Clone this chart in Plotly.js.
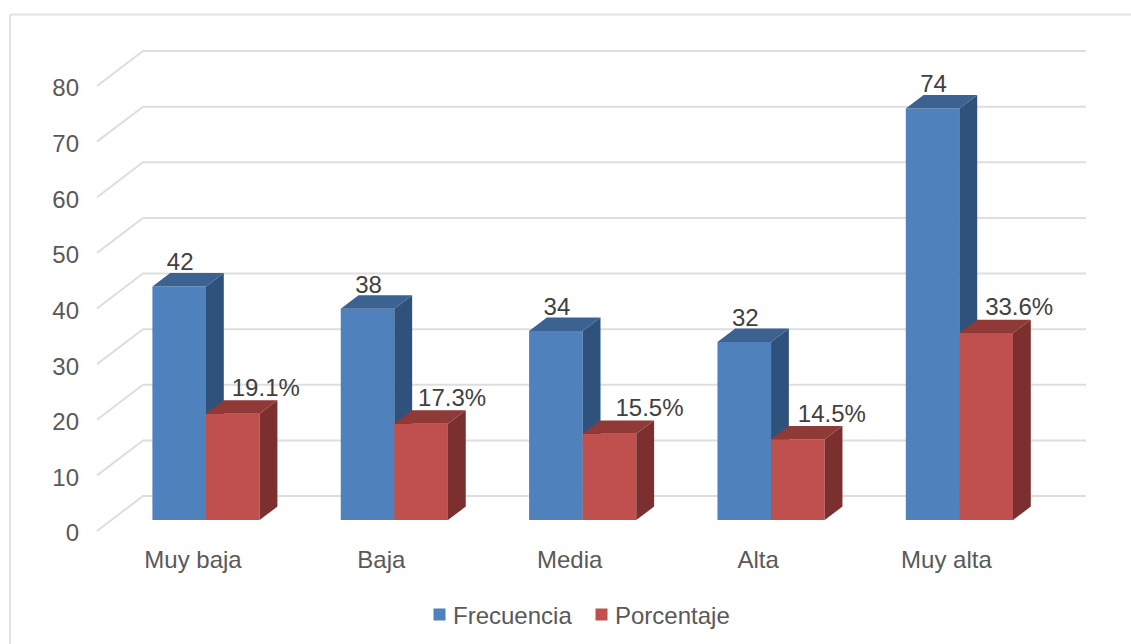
<!DOCTYPE html>
<html>
<head>
<meta charset="utf-8">
<script src="https://cdn.plot.ly/plotly-3.0.1.min.js"></script>
<style>html,body{margin:0;padding:0;background:#fff}#chart{width:1131px;height:644px}</style>
</head>
<body>
<div id="chart"></div>
<script>
const categories = ["Muy baja", "Baja", "Media", "Alta", "Muy alta"];
const frecuencia = [42, 38, 34, 32, 74];
const porcentaje = [19.1, 17.3, 15.5, 14.5, 33.6];
const axisTicks = [0, 10, 20, 30, 40, 50, 60, 70, 80];

// pixel geometry of the plot and the value scales
const W = 1131, H = 644;
const PL = 90, PR = 1095, PT = 40, PB = 543;
const X0 = 206, XS = 188.35;            // px of category 0, px per category
const Y0 = 520, YS = 5.5625;            // px of value 0 on the bars' plane, px per unit
const xv = p => (p - X0) / XS;
const yv = p => (Y0 - p) / YS;
const xRange = [xv(PL), xv(PR)];
const yRange = [yv(PB), yv(PT)];
const labelRange = [(533 - PB) / YS, (533 - PT) / YS];

// oblique projection
const barW = 53.6 / XS;
const dX = 17.8 / XS, dY = 13.4 / YS;
const wallFrontX = xv(97), wallBackX = xv(143), wallRightX = xv(1086);
const wallFront = -11 / YS, wallBack = 24 / YS;

const gridX = [], gridY = [];
axisTicks.forEach(t => {
  gridX.push(wallFrontX, wallBackX, wallRightX, null);
  gridY.push(t + wallFront, t + wallBack, t + wallBack, null);
});

function faces(values, offset) {
  const side = {x: [], y: []}, top = {x: [], y: []};
  values.forEach((v, i) => {
    const l = i + offset, r = l + barW;
    side.x.push(r, r + dX, r + dX, r, r, null);
    side.y.push(0, dY, v + dY, v, 0, null);
    top.x.push(l, l + dX, r + dX, r, l, null);
    top.y.push(v, v + dY, v + dY, v, v, null);
  });
  return {side, top};
}
function faceTrace(f, color, yaxis) {
  return {type: 'scatter', mode: 'lines', x: f.x, y: f.y, xaxis: 'x', yaxis,
    fill: 'toself', fillcolor: color, line: {width: 0, color}, hoverinfo: 'skip', showlegend: false};
}
function barTrace(name, values, offset, color, yaxis) {
  return {type: 'bar', name, x: categories.map((c, i) => i), y: values, width: barW, offset,
    xaxis: 'x', yaxis, marker: {color, line: {width: 0}}, hoverinfo: 'y+name'};
}
function labelTrace(values, texts, dxs, lift, yaxis) {
  return {type: 'scatter', mode: 'text', x: values.map((v, i) => i + dxs[i]), y: values.map(v => v + lift),
    text: texts, textposition: 'middle center', cliponaxis: false, xaxis: 'x', yaxis,
    textfont: {family: 'Liberation Sans, Arial, sans-serif', size: 24, color: '#404040'},
    hoverinfo: 'skip', showlegend: false};
}

const fb = faces(frecuencia, -barW), fr = faces(porcentaje, 0);
const pctNudge = [33, 31, 40, 34, 33];
const data = [
  {type: 'scatter', mode: 'lines', x: gridX, y: gridY, xaxis: 'x', yaxis: 'y',
   line: {color: '#DEDEDE', width: 2}, hoverinfo: 'skip', showlegend: false},
  barTrace('Frecuencia', frecuencia, -barW, '#4F81BD', 'y2'),
  faceTrace(fb.side, '#2F527C', 'y2'),
  faceTrace(fb.top, '#3B6291', 'y2'),
  barTrace('Porcentaje', porcentaje, 0, '#C0504D', 'y3'),
  faceTrace(fr.side, '#7B2F2E', 'y3'),
  faceTrace(fr.top, '#903A38', 'y3'),
  labelTrace(frecuencia, frecuencia.map(String), categories.map(() => -barW / 2 + 1 / XS), 22 / YS, 'y3'),
  labelTrace(porcentaje, porcentaje.map(v => v.toFixed(1) + '%'), pctNudge.map(n => barW / 2 + n / XS), 23.7 / YS, 'y3'),
  {type: 'scatter', mode: 'markers', x: [0], y: [0], xaxis: 'x', yaxis: 'y4',
   marker: {opacity: 0}, hoverinfo: 'skip', showlegend: false}
];

const hiddenY = {range: yRange, showgrid: false, zeroline: false, showticklabels: false, ticks: '', showline: false, fixedrange: true};
const fontTick = {family: 'Liberation Sans, Arial, sans-serif', size: 24, color: '#595959'};
const px = p => (p - PL) / (PR - PL), py = p => (PB - p) / (PB - PT);

const layout = {
  width: W, height: H,
  margin: {l: PL, r: W - PR, t: PT, b: H - PB, pad: 0, autoexpand: false},
  paper_bgcolor: '#fff', plot_bgcolor: 'rgba(0,0,0,0)',
  showlegend: true,
  legend: {orientation: 'h', x: px(428), xanchor: 'left', y: py(615), yanchor: 'middle',
    font: fontTick, indentation: -15, entrywidthmode: 'pixels', entrywidth: 132, traceorder: 'normal', bgcolor: 'rgba(0,0,0,0)'},
  xaxis: {range: xRange, tickmode: 'array', tickvals: categories.map((c, i) => i - 13 / XS), ticktext: categories,
    showgrid: false, zeroline: false, showline: false, ticks: '', tickfont: fontTick, fixedrange: true},
  yaxis: hiddenY,
  yaxis2: Object.assign({}, hiddenY, {overlaying: 'y'}),
  yaxis3: Object.assign({}, hiddenY, {overlaying: 'y'}),
  yaxis4: {overlaying: 'y', side: 'left', range: labelRange, tickmode: 'array', tickvals: axisTicks,
    showgrid: false, zeroline: false, showline: false, ticks: '', tickfont: fontTick, ticklabelstandoff: 10, fixedrange: true},
  shapes: [
    {type: 'line', xref: 'paper', yref: 'paper', x0: px(10), x1: px(10), y0: py(14.5), y1: py(644), line: {color: '#E2E2E2', width: 2}},
    {type: 'line', xref: 'paper', yref: 'paper', x0: px(10), x1: px(1131), y0: py(14.5), y1: py(14.5), line: {color: '#E2E2E2', width: 2}}
  ]
};
Plotly.newPlot('chart', data, layout, {displayModeBar: false, responsive: false}).then(() => {
  // the legend keys sit closer to their text in the reference
  document.querySelectorAll('#chart .legend .legendsymbols').forEach(g => {
    g.setAttribute('transform', 'translate(6.5,0)');
  });
});
</script>
</body>
</html>
